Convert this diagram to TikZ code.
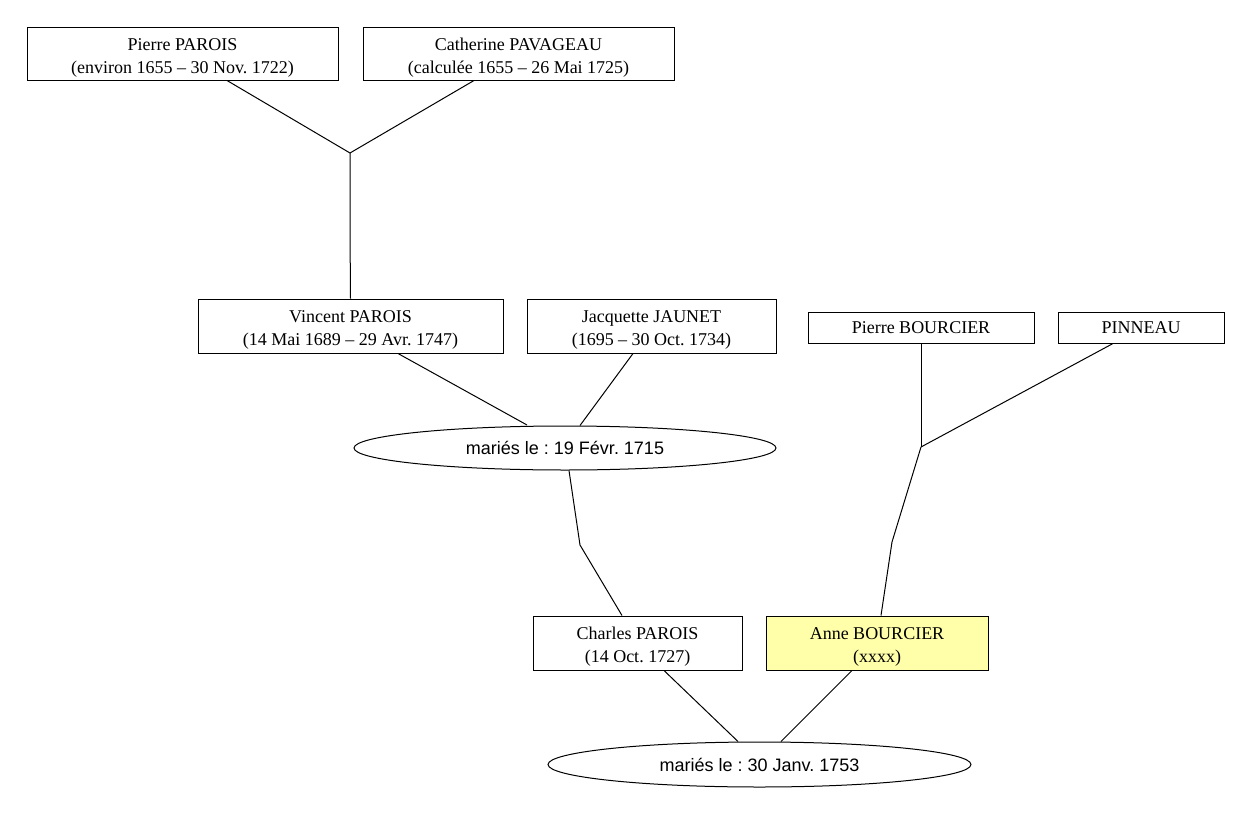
\documentclass[tikz,border=0pt]{standalone}
\usepackage{fontspec}
\setmainfont{Liberation Serif}
\setsansfont{Liberation Sans}
\usetikzlibrary{shapes.geometric}
\definecolor{annefill}{RGB}{255,255,170}
\newcommand{\topstrut}{\rule{0pt}{20pt}}
\tikzset{
  person/.style={draw=black, line width=1pt, rectangle, inner sep=0pt, align=center,
    font=\frenchspacing\fontsize{18}{23}\selectfont},
  marriage/.style={draw=black, line width=1pt, ellipse, inner sep=0pt,
    font=\frenchspacing\sffamily\fontsize{18}{21}\selectfont},
  link/.style={draw=black, line width=1pt}
}
\begin{document}
\begin{tikzpicture}[x=1pt,y=-1pt]
\useasboundingbox (0,0) rectangle (1251,814);
\fill[white] (0,0) rectangle (1251,814);

\node[person, minimum width=311pt, minimum height=53pt] (pp) at (182.5,53.5) {\topstrut Pierre PAROIS\\(environ 1655 -- 30 Nov. 1722)};
\node[person, minimum width=311pt, minimum height=53pt] (cp) at (518.5,53.5) {\topstrut Catherine PAVAGEAU\\(calculée 1655 -- 26 Mai 1725)};
\node[person, minimum width=305pt, minimum height=54pt] (vp) at (350.5,326) {\topstrut Vincent PAROIS\\(14 Mai 1689 -- 29 Avr. 1747)};
\node[person, minimum width=249pt, minimum height=54pt] (jj) at (651.5,326) {\topstrut Jacquette JAUNET\\(1695 -- 30 Oct. 1734)};
\node[person, minimum width=226pt, minimum height=31pt] (pb) at (921,327.5) {Pierre BOURCIER};
\node[person, minimum width=166pt, minimum height=31pt] (pin) at (1141,327.5) {PINNEAU};
\node[marriage, minimum width=422pt, minimum height=44pt] (e1) at (565,448) {mariés le : 19 Févr. 1715};
\node[person, minimum width=209pt, minimum height=54pt] (chp) at (637.5,643) {\topstrut Charles PAROIS\\(14 Oct. 1727)};
\node[person, fill=annefill, minimum width=222pt, minimum height=54pt] (ab) at (877,643) {\topstrut Anne BOURCIER\\(xxxx)};
\node[marriage, minimum width=423pt, minimum height=45pt] (e2) at (759.5,764.5) {mariés le : 30 Janv. 1753};

\coordinate (j1) at (350,153);
\coordinate (k1) at (350,228);
\coordinate (m1) at (580,545);
\coordinate (j2) at (921,447);
\coordinate (k2) at (892,542);

\draw[link] ([xshift=44.5pt]pp.south) -- (j1);
\draw[link] ([xshift=-44.5pt]cp.south) -- (j1);
\draw[link] (j1) -- (k1) -- (vp.north);

\draw[link] ([xshift=47.5pt]vp.south) -- ([xshift=-38pt,yshift=0.5pt]e1.north);
\draw[link] ([xshift=-18.5pt]jj.south) -- ([xshift=15pt]e1.north);
\draw[link] ([xshift=4pt]e1.south) -- (m1) -- ([xshift=-15.5pt]chp.north);

\draw[link] (pb.south) -- (j2);
\draw[link] ([xshift=-28pt]pin.south) -- (j2);
\draw[link] (j2) -- (k2) -- ([xshift=4pt]ab.north);

\draw[link] ([xshift=26.5pt]chp.south) -- ([xshift=-21.5pt]e2.north);
\draw[link] ([xshift=-25pt]ab.south) -- ([xshift=21.5pt]e2.north);
\end{tikzpicture}
\end{document}
